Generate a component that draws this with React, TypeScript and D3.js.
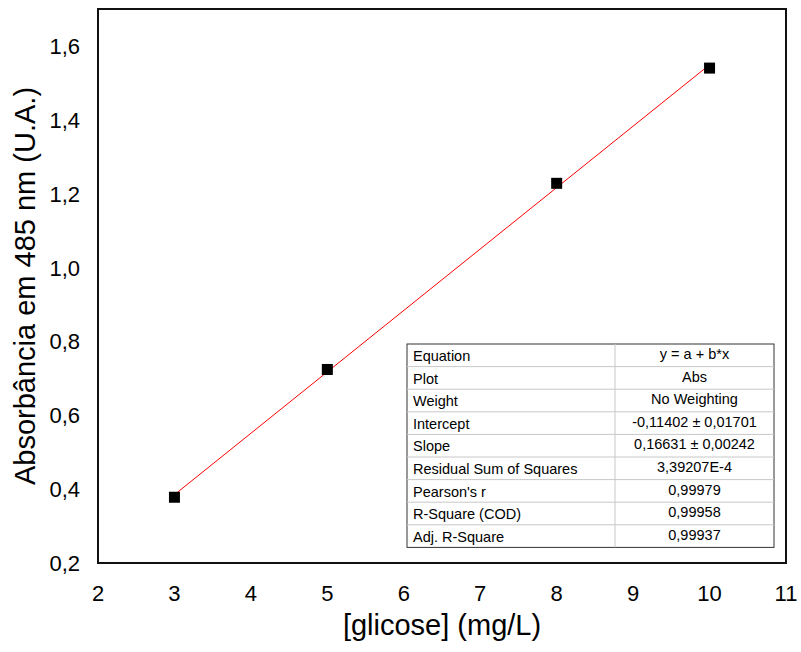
import React, { useEffect, useRef } from "react";
import * as d3 from "d3";

// Calibration data
const concentrations = [3, 5, 8, 10];
const absorbances = [0.378, 0.724, 1.228, 1.54];

// Linear fit y = a + b*x
const intercept = -0.11402;
const slope = 0.16631;

const xTicks = [2, 3, 4, 5, 6, 7, 8, 9, 10, 11];
const yTicks = [0.2, 0.4, 0.6, 0.8, 1.0, 1.2, 1.4, 1.6];

const tableLabels = [
  "Equation",
  "Plot",
  "Weight",
  "Intercept",
  "Slope",
  "Residual Sum of Squares",
  "Pearson's r",
  "R-Square (COD)",
  "Adj. R-Square",
];
const tableValues = [
  "y = a + b*x",
  "Abs",
  "No Weighting",
  "-0,11402 ± 0,01701",
  "0,16631 ± 0,00242",
  "3,39207E-4",
  "0,99979",
  "0,99958",
  "0,99937",
];

const App = () => {
  const svgRef = useRef<SVGSVGElement>(null);

  useEffect(() => {
    const width = 801;
    const height = 652;
    const margin = { top: 9, right: 15, bottom: 89, left: 98 };
    const font = "'Liberation Sans', Arial, sans-serif";

    const svg = d3.select(svgRef.current);
    svg.selectAll("*").remove();
    svg.attr("width", width).attr("height", height).style("font-family", font);

    const xScale = d3.scaleLinear().domain([2, 11]).range([margin.left, width - margin.right]);
    const yScale = d3.scaleLinear().domain([0.2, 1.7]).range([height - margin.bottom, margin.top]);

    const fmt = (v: number) => d3.format(".1f")(v).replace(".", ",");

    // X tick labels
    svg
      .append("g")
      .selectAll("text")
      .data(xTicks)
      .enter()
      .append("text")
      .attr("x", (d) => xScale(d))
      .attr("y", 601)
      .attr("text-anchor", "middle")
      .style("font-size", "22px")
      .text((d) => d);

    // Y tick labels
    svg
      .append("g")
      .selectAll("text")
      .data(yTicks)
      .enter()
      .append("text")
      .attr("x", 80)
      .attr("y", (d) => yScale(d) + 8)
      .attr("text-anchor", "end")
      .style("font-size", "22px")
      .text((d) => fmt(d));

    // Axis titles
    svg
      .append("text")
      .attr("x", xScale(6.5))
      .attr("y", 635)
      .attr("text-anchor", "middle")
      .style("font-size", "29px")
      .text("[glicose] (mg/L)");

    svg
      .append("text")
      .attr("transform", `translate(35,${yScale(0.95)}) rotate(-90)`)
      .attr("text-anchor", "middle")
      .style("font-size", "29px")
      .text("Absorbância em 485 nm (U.A.)");

    // Fit line
    const xMin = d3.min(concentrations) as number;
    const xMax = d3.max(concentrations) as number;
    svg
      .append("line")
      .attr("x1", xScale(xMin))
      .attr("y1", yScale(intercept + slope * xMin))
      .attr("x2", xScale(xMax))
      .attr("y2", yScale(intercept + slope * xMax))
      .attr("stroke", "#ff0000")
      .attr("stroke-width", 1);

    // Points
    const size = 11;
    svg
      .append("g")
      .selectAll("rect")
      .data(concentrations)
      .enter()
      .append("rect")
      .attr("x", (d) => xScale(d) - size / 2)
      .attr("y", (d, i) => yScale(absorbances[i]) - size / 2)
      .attr("width", size)
      .attr("height", size)
      .attr("fill", "black");

    // Frame
    svg
      .append("rect")
      .attr("x", margin.left)
      .attr("y", margin.top)
      .attr("width", width - margin.left - margin.right)
      .attr("height", height - margin.top - margin.bottom)
      .attr("fill", "none")
      .attr("stroke", "#111")
      .attr("stroke-width", 2);

    // Fit table
    const tx = 407;
    const ty = 344;
    const tw = 367;
    const rowH = 22.6;
    const splitX = 615;
    const table = svg.append("g");

    table
      .append("rect")
      .attr("x", tx)
      .attr("y", ty)
      .attr("width", tw)
      .attr("height", rowH * tableLabels.length)
      .attr("fill", "white")
      .attr("stroke", "#333")
      .attr("stroke-width", 1);

    tableLabels.forEach((label, i) => {
      if (i > 0) {
        table
          .append("line")
          .attr("x1", tx)
          .attr("x2", tx + tw)
          .attr("y1", ty + i * rowH)
          .attr("y2", ty + i * rowH)
          .attr("stroke", "#c8c8c8")
          .attr("stroke-width", 1);
      }
      table
        .append("text")
        .attr("x", tx + 6)
        .attr("y", ty + i * rowH + 17)
        .style("font-size", "14.5px")
        .text(label);
      table
        .append("text")
        .attr("x", (splitX + tx + tw) / 2)
        .attr("y", ty + i * rowH + 15)
        .attr("text-anchor", "middle")
        .style("font-size", "14.5px")
        .text(tableValues[i]);
    });

    table
      .append("line")
      .attr("x1", splitX)
      .attr("x2", splitX)
      .attr("y1", ty)
      .attr("y2", ty + rowH * tableLabels.length)
      .attr("stroke", "#c8c8c8")
      .attr("stroke-width", 1);
  }, []);

  return <svg ref={svgRef} style={{ position: "absolute", left: 0, top: 0 }}></svg>;
};

export default App;
